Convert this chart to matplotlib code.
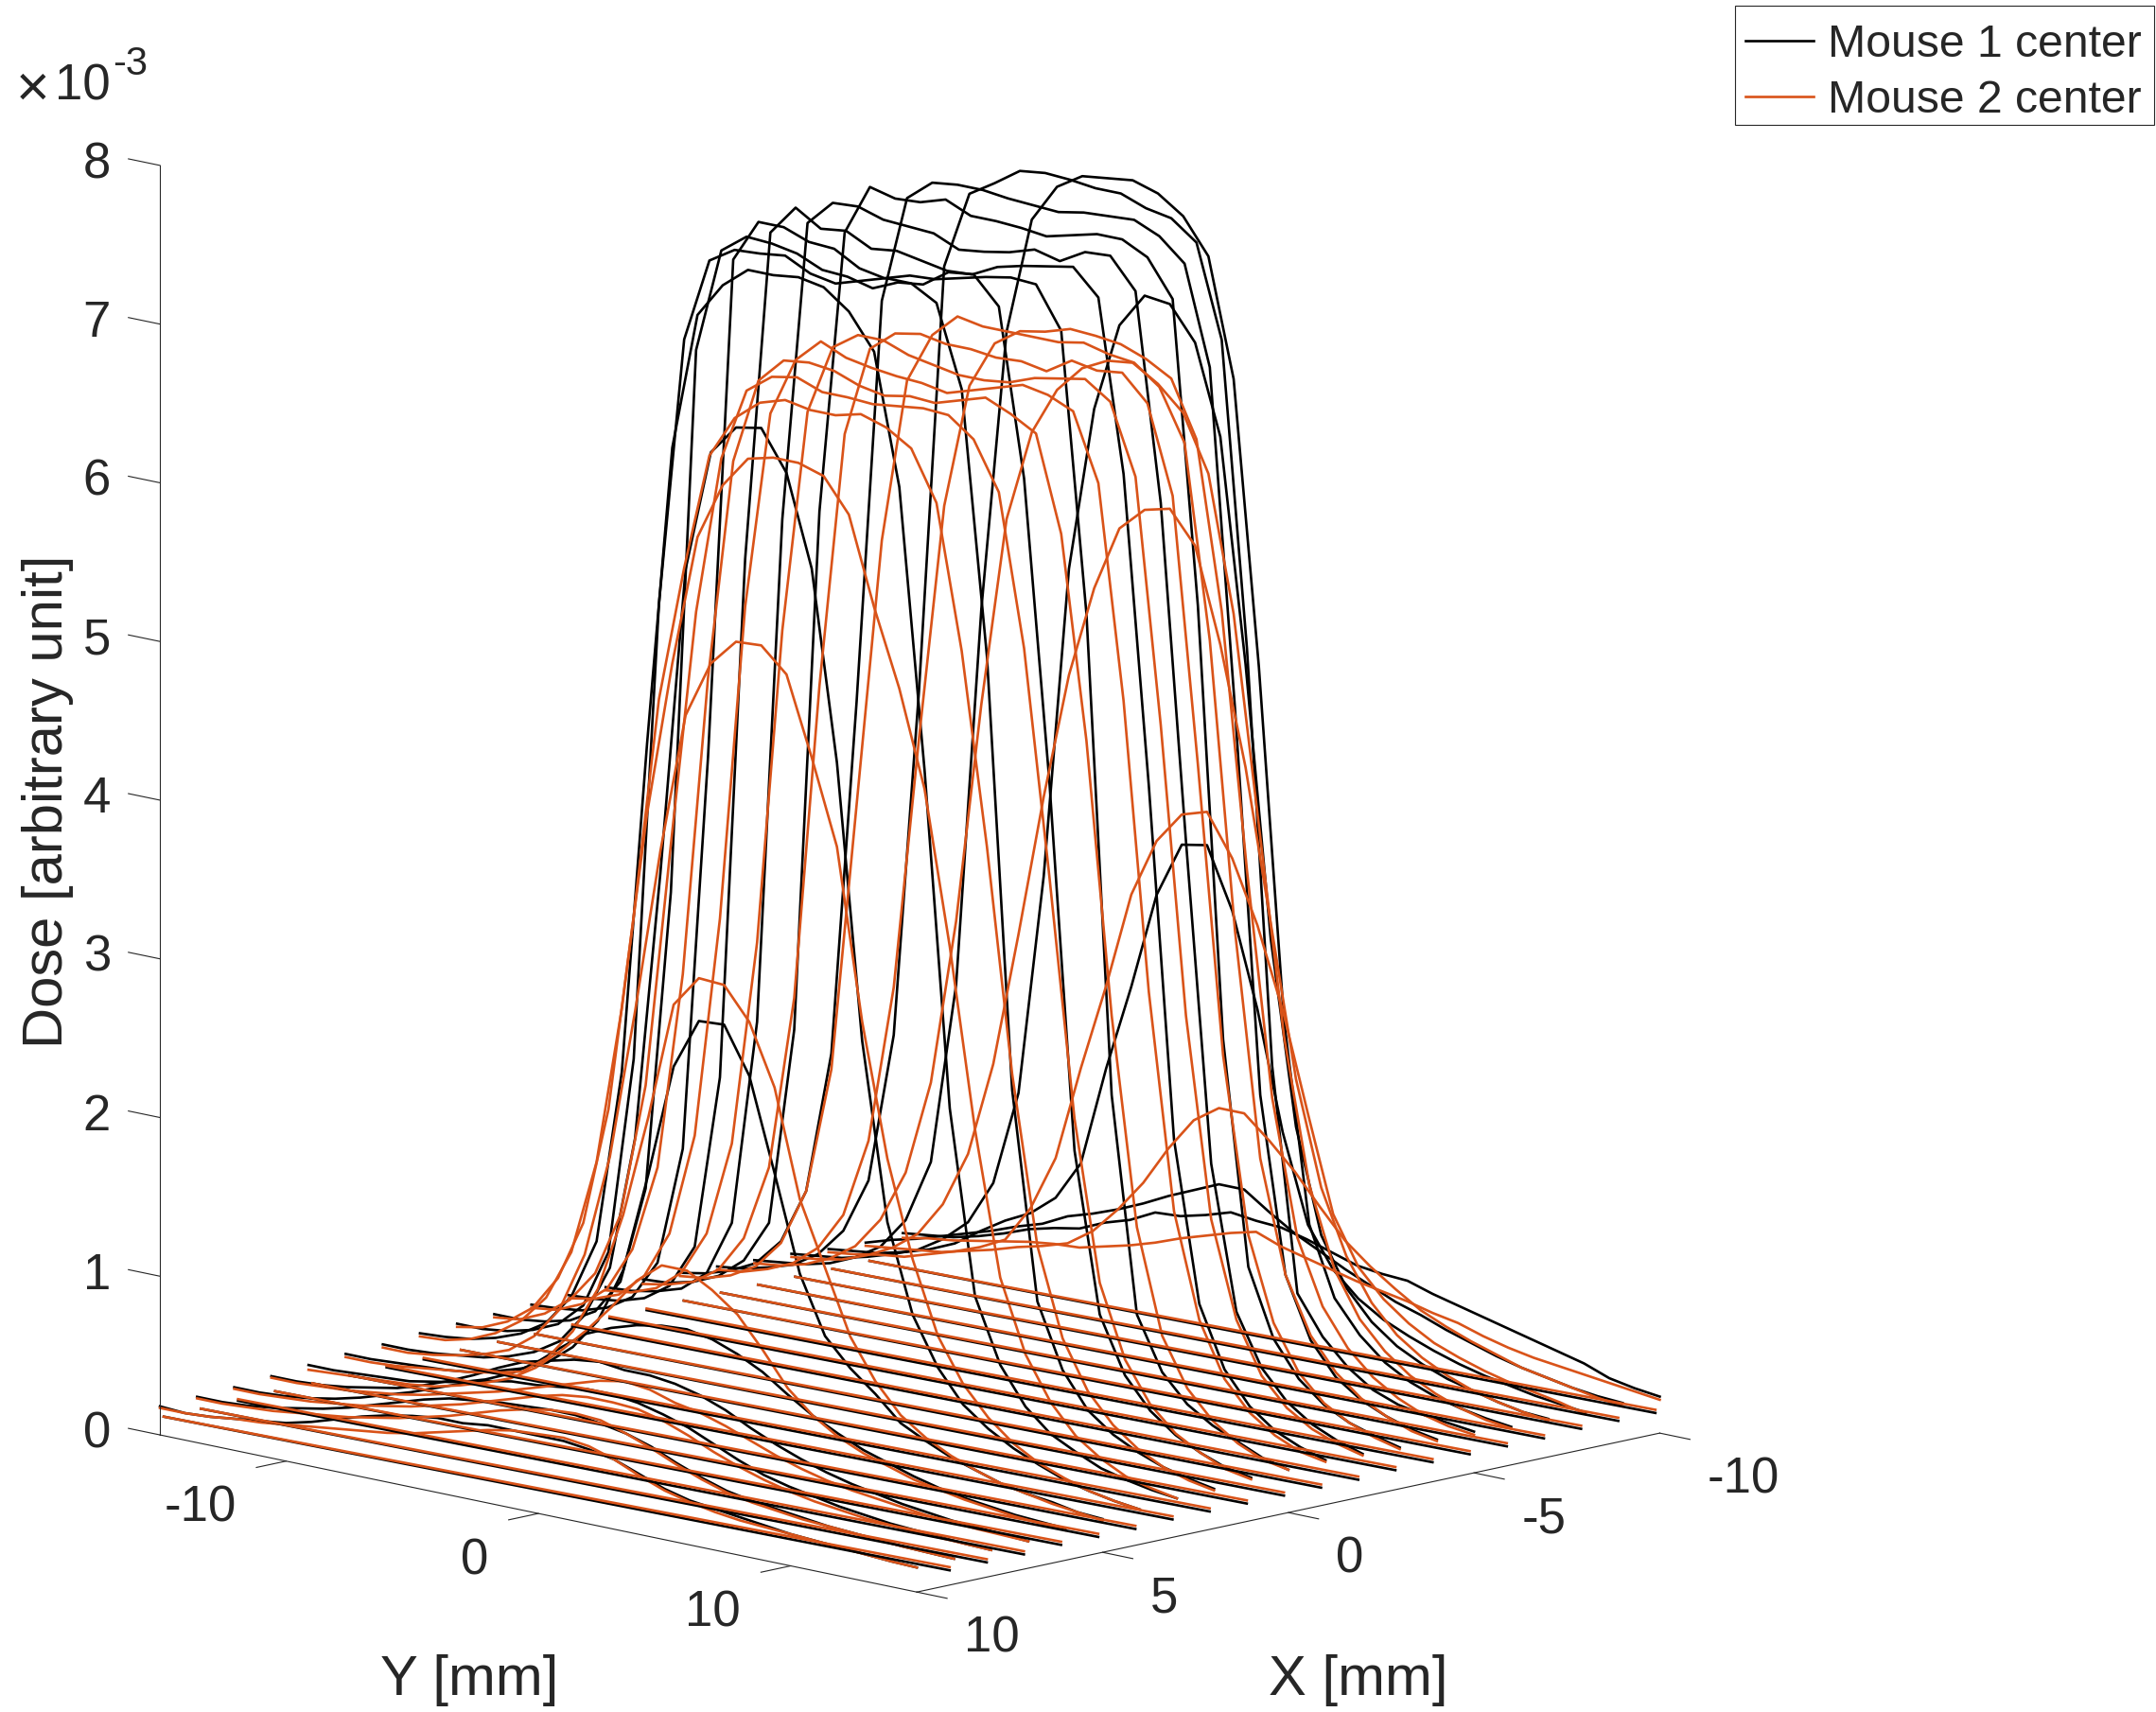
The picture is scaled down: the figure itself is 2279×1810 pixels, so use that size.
import matplotlib
matplotlib.use('Agg')
from matplotlib import pyplot as plt
from matplotlib.patches import Rectangle
from mpl_toolkits.mplot3d import proj3d

plt.rcParams['font.family'] = ['Liberation Sans', 'DejaVu Sans']

BLACK = '#000000'
ORANGE = '#D95319'
AXIS = '#262626'
W, H = 2279, 1810

x_slices = [10, 9, 8, 7, 6, 5, 4, 3, 2, 1, 0, -1, -2, -3, -4, -5, -6, -7, -8, -9, -10]
y_grid = list(range(-15, 16))

# dose in 1e-3 units, one row per x slice, from y=-15 to y=15
mouse1_dose = [
    [.18,.17,.18,.2,.22,.24,.28,.33,.38,.42,.45,.47,.47,.49,.49, .49,.49,.47,.44,.38,.32,.28,.26,.24,.22,.2,.19,.18,.17,.16,.155],
    [.19,.19,.2,.22,.25,.28,.32,.37,.42,.47,.51,.53,.55,.56,.57, .57,.55,.52,.47,.4,.34,.29,.26,.24,.22,.2,.19,.18,.17,.165,.16],
    [.2,.2,.21,.23,.26,.3,.35,.4,.46,.52,.57,.6,.61,.63,.65, .65,.63,.59,.54,.47,.4,.34,.3,.27,.24,.22,.2,.19,.18,.17,.165],
    [.22,.22,.23,.25,.28,.31,.36,.42,.49,.57,.64,.68,.72,.74,.72, .72,.7,.66,.6,.52,.45,.39,.34,.3,.27,.24,.22,.2,.19,.18,.17],
    [.24,.24,.25,.26,.27,.3,.33,.38,.45,.55,.68,.8,.87,.92,.95, .96,.93,.87,.79,.68,.58,.5,.43,.38,.33,.29,.26,.24,.22,.21,.2],
    [.26,.26,.27,.28,.29,.31,.35,.4,.47,.6,.8,1.15,1.79,2.5,2.82, 2.83,2.54,1.96,1.36,1.0,.83,.7,.55,.47,.4,.35,.3,.27,.25,.22,.21],
    [.27,.27,.28,.3,.32,.36,.42,.52,.72,1.05,1.9,3.6,5.55,6.32,6.51, 6.54,6.29,5.72,4.53,2.81,1.7,1.15,.85,.65,.53,.44,.37,.31,.27,.24,.22],
    [.29,.3,.32,.36,.42,.52,.72,1.1,2.2,4.3,6.2,7.07,7.29,7.42,7.42, 7.44,7.41,7.29,7.07,6.25,4.5,2.4,1.25,.85,.62,.48,.4,.33,.29,.26,.24],
    [.3,.3,.32,.36,.43,.58,.95,2.2,5.1,6.8,7.33,7.43,7.44,7.46,7.38, 7.35,7.4,7.45,7.45,7.36,6.85,5.2,2.5,1.2,.8,.58,.46,.38,.32,.28,.25],
    [.31,.31,.33,.37,.46,.68,1.3,3.2,6.65,7.31,7.43,7.42,7.39,7.32,7.31, 7.27,7.34,7.36,7.47,7.49,7.32,6.27,4.4,2.1,1.1,.75,.56,.44,.36,.3,.27],
    [.32,.33,.35,.4,.5,.75,1.5,4.0,7.17,7.44,7.44,7.38,7.37,7.28,7.25, 7.3,7.31,7.35,7.39,7.42,7.41,7.15,5.4,2.4,1.05,.72,.55,.45,.38,.31,.27],
    [.33,.34,.36,.41,.52,.8,1.9,5.2,7.29,7.48,7.38,7.4,7.32,7.34,7.31, 7.28,7.29,7.37,7.41,7.44,7.47,7.31,6.23,4.3,2.1,1.1,.72,.52,.4,.33,.28],
    [.33,.34,.37,.42,.55,.9,2.2,5.4,7.3,7.46,7.47,7.42,7.41,7.4,7.33, 7.35,7.38,7.43,7.39,7.48,7.49,7.3,6.0,3.9,1.9,1.0,.68,.5,.39,.32,.27],
    [.33,.34,.38,.45,.58,.85,2.1,5.4,7.19,7.51,7.47,7.48,7.53,7.46,7.46, 7.45,7.43,7.47,7.51,7.51,7.43,7.2,5.3,2.6,1.2,.78,.56,.43,.35,.3,.26],
    [.32,.35,.4,.48,.65,1.0,1.9,4.15,6.71,7.39,7.52,7.54,7.54,7.52,7.51, 7.5,7.53,7.54,7.55,7.48,7.34,6.72,4.6,2.2,1.1,.72,.52,.41,.34,.29,.26],
    [.31,.33,.37,.42,.52,.7,1.05,2.0,4.2,6.91,7.4,7.5,7.61,7.63,7.62, 7.6,7.6,7.54,7.51,7.39,6.81,4.9,2.3,.9,.66,.5,.39,.33,.3,.28,.26],
    [.3,.32,.34,.38,.45,.55,.75,1.15,2.3,4.7,6.48,7.22,7.46,7.56,7.58, 7.6,7.55,7.44,7.22,6.48,4.7,2.5,1.25,.82,.62,.48,.39,.33,.29,.26,.24],
    [.29,.31,.33,.37,.42,.48,.58,.72,1.0,1.6,3.0,4.97,6.01,6.57,6.79, 6.77,6.56,6.0,4.6,2.9,1.75,1.1,.8,.62,.5,.42,.36,.32,.28,.25,.24],
    [.27,.29,.31,.35,.4,.47,.58,.68,.76,.89,1.14,1.77,2.32,2.93,3.28, 3.31,2.93,2.34,1.6,1.05,.8,.65,.55,.48,.42,.37,.33,.3,.27,.25,.23],
    [.26,.31,.35,.4,.45,.5,.56,.61,.69,.74,.8,.87,.95,1.02,1.09, 1.09,.98,.88,.8,.72,.65,.58,.53,.47,.42,.37,.33,.3,.27,.25,.24],
    [.27,.29,.31,.35,.4,.46,.5,.53,.6,.65,.73,.74,.78,.83,.81, .8,.76,.71,.66,.64,.63,.58,.54,.5,.46,.42,.38,.34,.28,.25,.23],
]

mouse2_dose = [
    [.17,.17,.18,.2,.21,.23,.25,.27,.29,.31,.34,.38,.42,.46,.49, .5,.51,.49,.44,.37,.31,.27,.24,.22,.21,.2,.19,.18,.17,.16,.155],
    [.18,.18,.19,.2,.22,.24,.26,.29,.32,.36,.4,.45,.5,.54,.57, .58,.57,.52,.46,.39,.33,.28,.25,.23,.21,.2,.19,.18,.17,.165,.16],
    [.19,.19,.2,.21,.23,.25,.28,.31,.35,.39,.44,.49,.54,.58,.6, .6,.59,.55,.49,.42,.36,.31,.27,.24,.22,.2,.19,.18,.175,.17,.165],
    [.21,.21,.22,.23,.25,.27,.3,.34,.38,.42,.47,.52,.57,.62,.65, .63,.58,.55,.5,.44,.38,.33,.29,.26,.24,.22,.2,.19,.18,.175,.17],
    [.21,.22,.23,.24,.25,.27,.31,.36,.42,.52,.66,.82,1.0,1.2,1.33, 1.33,1.24,1.12,.93,.72,.58,.48,.41,.36,.31,.28,.25,.23,.21,.2,.19],
    [.24,.24,.25,.27,.29,.31,.34,.38,.5,.7,1.0,1.5,2.15,2.89,3.09, 3.08,2.88,2.5,1.83,1.43,1.03,.78,.6,.49,.41,.35,.3,.27,.24,.22,.2],
    [.25,.25,.27,.3,.34,.4,.52,.72,1.1,1.75,2.7,3.74,4.63,4.99,5.16, 5.17,5.02,4.53,4.0,2.93,2.1,1.5,1.05,.78,.6,.47,.38,.32,.27,.24,.22],
    [.27,.28,.32,.39,.5,.68,1.0,1.6,2.6,3.86,4.84,5.67,6.03,6.23,6.27, 6.27,6.22,6.01,5.46,4.98,4.38,3.42,2.3,1.4,.95,.68,.5,.39,.31,.27,.24],
    [.28,.31,.38,.5,.72,1.1,1.85,3.1,4.5,5.36,6.1,6.37,6.5,6.55,6.52, 6.52,6.56,6.51,6.41,6.1,5.2,4.0,2.6,1.55,1.0,.7,.52,.4,.32,.27,.24],
    [.29,.31,.38,.5,.7,1.1,1.95,3.5,5.0,6.0,6.46,6.58,6.61,6.55,6.55, 6.54,6.56,6.58,6.57,6.45,6.15,5.2,3.8,2.3,1.3,.85,.6,.45,.36,.29,.26],
    [.3,.32,.39,.52,.8,1.35,2.6,4.5,5.9,6.44,6.6,6.62,6.6,6.54,6.51, 6.54,6.53,6.58,6.63,6.56,6.47,5.87,4.6,2.9,1.6,.95,.65,.48,.37,.3,.27],
    [.31,.34,.4,.55,.85,1.5,2.9,4.9,6.15,6.52,6.67,6.6,6.57,6.55,6.54, 6.51,6.56,6.61,6.66,6.63,6.56,6.14,4.8,3.0,1.65,1.0,.66,.48,.37,.3,.27],
    [.31,.33,.39,.52,.8,1.4,2.7,4.7,6.11,6.55,6.66,6.66,6.6,6.57,6.54, 6.54,6.56,6.62,6.65,6.68,6.57,6.13,4.6,2.8,1.55,.95,.63,.46,.36,.3,.26],
    [.3,.33,.38,.49,.72,1.2,2.3,4.3,5.92,6.49,6.62,6.65,6.62,6.62,6.6, 6.61,6.58,6.68,6.65,6.67,6.51,5.96,4.3,2.5,1.4,.88,.6,.44,.35,.29,.25],
    [.3,.32,.37,.46,.64,1.0,1.8,3.5,5.2,6.24,6.56,6.71,6.68,6.68,6.68, 6.68,6.71,6.67,6.65,6.53,6.21,5.0,3.2,1.8,1.1,.75,.55,.42,.34,.28,.25],
    [.29,.31,.36,.43,.56,.8,1.3,2.3,3.9,5.4,6.19,6.49,6.6,6.63,6.68, 6.67,6.65,6.59,6.5,6.15,5.1,3.5,2.1,1.25,.85,.62,.47,.37,.3,.26,.24],
    [.28,.3,.34,.41,.52,.72,1.05,1.65,2.7,4.1,5.3,5.88,6.18,6.35,6.43, 6.45,6.35,6.2,5.85,5.0,3.7,2.4,1.5,1.0,.72,.55,.43,.35,.29,.25,.23],
    [.27,.29,.32,.38,.46,.58,.8,1.15,1.75,2.6,3.5,4.3,4.88,5.29,5.44, 5.48,5.28,4.69,3.95,3.0,2.05,1.4,1.0,.74,.57,.46,.38,.32,.28,.25,.23],
    [.25,.27,.3,.32,.37,.42,.48,.56,.79,1.14,1.74,2.29,2.9,3.27,3.47, 3.52,3.26,2.87,2.37,1.75,1.15,.85,.68,.56,.47,.41,.36,.32,.29,.26,.22],
    [.24,.26,.28,.3,.34,.38,.43,.47,.52,.63,.8,1.0,1.25,1.46,1.57, 1.57,1.43,1.27,1.08,.9,.77,.66,.56,.49,.43,.38,.33,.3,.27,.24,.22],
    [.24,.27,.29,.32,.35,.38,.4,.41,.45,.49,.54,.6,.65,.7,.74, .68,.64,.6,.56,.53,.5,.46,.43,.38,.34,.31,.29,.27,.25,.23,.21],
]

# the nearly flat straight lines under the profiles
flat_x = [10, 9, 8, 7, 6, 5, 4, 3, 2, 1, 0, -1, -2, -3, -4, -5, -6, -7, -8, -9]
flat_y = [-14.85, 16.3]
mouse1_flat_start = [.12, .12, .12, .13, .13, .13, .13, .13, .14, .14, .14, .14, .14, .14, .15, .15, .15, .15, .15, .15]
mouse1_flat_end = [.18, .18, .18, .19, .19, .19, .2, .2, .2, .2, .2, .2, .21, .21, .21, .21, .21, .22, .22, .22]
mouse2_flat_start = [.12, .12, .13, .13, .13, .13, .14, .14, .14, .14, .14, .15, .15, .15, .15, .15, .15, .15, .15, .15]
mouse2_flat_end = [.2, .2, .2, .21, .21, .21, .22, .22, .22, .22, .22, .22, .23, .23, .23, .23, .23, .24, .24, .24]

dose_ticks = [0, 1, 2, 3, 4, 5, 6, 7, 8]
y_ticks = [-10, 0, 10]
x_ticks = [-10, -5, 0, 5, 10]

fig = plt.figure(figsize=(W / 100, H / 100), dpi=100)
side = 2036
pad = .95 / 1.85
ax = fig.add_axes([(961.75 - pad * side) / W, (965 - pad * side) / H, side / W, side / H],
                  projection='3d', proj_type='ortho', computed_zorder=False)
ax.view_init(elev=12.17, azim=44.57)
ax.set_xlim(-10, 10, view_margin=0)
ax.set_ylim(-15, 15, view_margin=0)
ax.set_zlim(0, 8, view_margin=0)
ax.set_box_aspect((1119, 1123, 1373))
ax.set_axis_off()
ax.apply_aspect()


def tick_text(x, y, z, s, ha):
    # plain 2D text at a projected 3D position
    x2, y2, _ = proj3d.proj_transform(x, y, z, ax.get_proj())
    ax.text2D(x2, y2, s, transform=ax.transData, ha=ha, va='center', fontsize=38, color=AXIS)


for i, x in enumerate(x_slices):
    ax.plot([x] * len(y_grid), y_grid, mouse1_dose[i], color=BLACK, lw=1.9,
            label='Mouse 1 center' if i == 0 else None)
for i, x in enumerate(x_slices):
    ax.plot([x] * len(y_grid), y_grid, mouse2_dose[i], color=ORANGE, lw=1.9,
            label='Mouse 2 center' if i == 0 else None)
for i, x in enumerate(flat_x):
    ax.plot([x, x], flat_y, [mouse1_flat_start[i], mouse1_flat_end[i]], color=BLACK, lw=1.9)
    ax.plot([x, x], flat_y, [mouse2_flat_start[i], mouse2_flat_end[i]], color=ORANGE, lw=1.9)

# axis lines and ticks
ax.plot([10, 10], [-15, -15], [0, 8], color=AXIS, lw=.8)
ax.plot([10, 10], [-15, 15], [0, 0], color=AXIS, lw=.8)
ax.plot([10, -10], [15, 15], [0, 0], color=AXIS, lw=.8)
for z in dose_ticks:
    ax.plot([10, 10], [-15, -16.25], [z, z], color=AXIS, lw=.8)
    tick_text(10, -16.95, z - .06, str(z), 'right')
for y in y_ticks:
    ax.plot([10, 10.8], [y, y], [0, 0], color=AXIS, lw=.8)
    tick_text(11.35, y, -.23, str(y), 'right')
for x in x_ticks:
    ax.plot([x, x], [15, 16.2], [0, 0], color=AXIS, lw=.8)
    tick_text(x, 16.88, -.23, str(x), 'left')

fig.text(496 / W, 1 - 1776 / H, 'Y [mm]', ha='center', va='center', fontsize=43, color=AXIS)
fig.text(1436 / W, 1 - 1776 / H, 'X [mm]', ha='center', va='center', fontsize=43, color=AXIS)
fig.text(51 / W, 1 - 847 / H, 'Dose [arbitrary unit]', rotation=90, ha='center', va='center',
         fontsize=43, color=AXIS)
fig.text(17 / W, 1 - 112 / H, '\u00d7', ha='left', va='baseline', fontsize=44, color=AXIS)
fig.text(58 / W, 1 - 105 / H, '10', ha='left', va='baseline', fontsize=38, color=AXIS)
fig.text(119 / W, 1 - 79 / H, '-3', ha='left', va='baseline', fontsize=30, color=AXIS)

# legend box is drawn apart so the text rows can sit where they do in the figure
fig.add_artist(Rectangle((1834 / W, 1 - 132 / H), 443 / W, 126 / H, transform=fig.transFigure,
                         facecolor='white', edgecolor=AXIS, lw=.8))
handles, labels = ax.get_legend_handles_labels()
fig.legend(handles, labels, loc='upper right', bbox_to_anchor=(2277 / W, 1 - 12 / H),
           borderaxespad=0, fontsize=34.7, handlelength=1.5, handletextpad=.31,
           labelspacing=.28, borderpad=.27, frameon=False, labelcolor=AXIS)

fig.savefig('out.png', dpi=100)
